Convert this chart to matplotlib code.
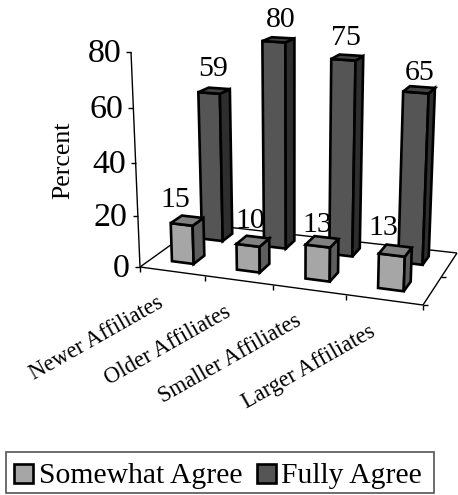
import numpy as np
import matplotlib
matplotlib.use('Agg')
import matplotlib.pyplot as plt
from matplotlib.patches import Polygon, Rectangle

categories = ['Newer Affiliates', 'Older Affiliates', 'Smaller Affiliates', 'Larger Affiliates']
series_names = ['Somewhat Agree', 'Fully Agree']
somewhat = [15, 10, 13, 13]
fully = [59, 80, 75, 65]
y_ticks = [0, 20, 40, 60, 80]

plt.rcParams['font.family'] = ['Liberation Serif', 'DejaVu Serif']

W, H = 458, 495
fig = plt.figure(figsize=(W / 100, H / 100), dpi=100)
ax = fig.add_axes([0, 0, 1, 1])
ax.set_xlim(0, W)
ax.set_ylim(H, 0)
ax.axis('off')

# floor corners in pixels, front left / front right / back right / back left
src = np.array([[0, 0], [1, 0], [1, 1], [0, 1]], float)
dst = np.array([[140, 267], [423, 305], [457, 253], [200, 224]], float)


def floor_matrix():
    A = []
    b = []
    for (u, v), (x, y) in zip(src, dst):
        A.append([u, v, 1, 0, 0, 0, -u * x, -v * x])
        A.append([0, 0, 0, u, v, 1, -u * y, -v * y])
        b += [x, y]
    p = np.linalg.solve(np.array(A), np.array(b))
    return np.append(p, 1).reshape(3, 3)


M = floor_matrix()
VP = np.array([293.0, 3927.0])  # verticals meet below the chart
K = 1442.0


def proj(u, v, h=0):
    x, y, w = M @ np.array([u, v, 1.0])
    p = np.array([x / w, y / w])
    # things further back come out a bit shorter
    h = h * (1 - 0.105 * v + 0.07 * u)
    return VP + (p - VP) / (1 - h / K)


def line(a, b, lw=1.0):
    ax.plot([a[0], b[0]], [a[1], b[1]], color='black', lw=lw, solid_capstyle='butt', zorder=2)


def bar(u0, u1, v0, v1, h, colors):
    front = [proj(u0, v0), proj(u1, v0), proj(u1, v0, h), proj(u0, v0, h)]
    side = [proj(u1, v0), proj(u1, v1), proj(u1, v1, h), proj(u1, v0, h)]
    top = [proj(u0, v0, h), proj(u1, v0, h), proj(u1, v1, h), proj(u0, v1, h)]
    for pts, c in zip([front, side, top], colors):
        ax.add_patch(Polygon(pts, closed=True, fc=c, ec='black', lw=1.9, joinstyle='miter', zorder=3))


# floor edges and axis
line(proj(0, 0), proj(1, 0))
line(proj(1, 0), proj(1, 1))
line(proj(1, 1), proj(0, 1))
line(proj(0, 1), proj(0, 0))
line(proj(0, 0), proj(0, 0, y_ticks[-1]))

for t in y_ticks:
    p = proj(0, 0, t)
    line(p, p + np.array([-5, 0]))
    ax.text(p[0] - 10, p[1] + 2, str(t), ha='right', va='center', fontsize=24.5)

for i in range(len(categories) + 1):
    p = proj(i / 4, 0)
    line(p, p + np.array([0, 5]))
for v in [0.5, 1]:
    p = proj(1, 1 - v)
    line(p, p + np.array([5, 0]))

# bars, back row first
width = 0.085
light_cols = ['#A6A6A6', '#5E5E5E', '#808080']
dark_cols = ['#555555', '#2E2E2E', '#444444']
# the labels do not sit evenly over the bars in the original
dark_nudge = [(-2, -6), (1, -4), (-2, -3), (-1, -1)]
light_nudge = [(-8, -5), (1, -4), (-1, -1), (-8, -7)]
for i, val in enumerate(fully):
    u = (i + 0.45) / 4 + 0.01
    bar(u - width / 2, u + width / 2, 0.69, 0.87, val, dark_cols)
    p = proj(u, 0.78, val)
    ax.text(p[0] + 1 + dark_nudge[i][0], p[1] - 3 + dark_nudge[i][1], str(val),
            ha='center', va='bottom', fontsize=21.5, zorder=5)
for i, val in enumerate(somewhat):
    u = (i + 0.44) / 4 + 0.013
    bar(u - width / 2, u + width / 2, 0.18, 0.36, val, light_cols)
    p = proj(u, 0.27, val)
    ax.text(p[0] - 4 + light_nudge[i][0], p[1] - 3 + light_nudge[i][1], str(val),
            ha='center', va='bottom', fontsize=21.5, zorder=5)

ax.text(63, 160, 'Percent', rotation=90, ha='center', va='center', fontsize=18.6)

# category labels, anchored at their upper right end
for i, name in enumerate(categories):
    p = proj((i + 0.5) / 4, 0)
    ax.text(p[0] - 15, p[1] + 21, name, rotation=29.5, rotation_mode='anchor',
            ha='right', va='top', fontsize=16.3)

# legend
ax.add_patch(Rectangle((6, 452), 428, 41, fc='white', ec='#555555', lw=1.2))
for name, c, bx, tx in zip(series_names, [light_cols[0], dark_cols[0]], [14, 257], [39, 281]):
    ax.add_patch(Rectangle((bx, 463.5), 19, 19, fc=c, ec='black', lw=1.9))
    ax.text(tx, 483, name, ha='left', va='baseline', fontsize=21.3)

fig.savefig('out.png', dpi=100)
